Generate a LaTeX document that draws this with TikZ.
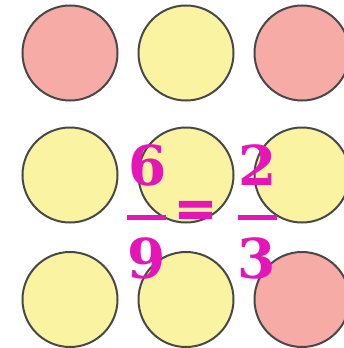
\documentclass[tikz,border=0pt]{standalone}
\usepackage{fontspec}
\newfontfamily\numfont{DejaVu Serif}[BoldFont={DejaVu Serif Bold}]
\newfontfamily\eqfont{DejaVu Serif Bold}[FakeBold=2.5]
\definecolor{pinkfill}{RGB}{247,171,166}
\definecolor{yelfill}{RGB}{250,244,162}
\definecolor{edgegray}{RGB}{72,72,72}
\definecolor{mag}{RGB}{228,22,184}
\tikzset{
  dot/.style={circle, draw=edgegray, line width=2pt, minimum size=95pt, inner sep=0pt},
  pinkdot/.style={dot, fill=pinkfill},
  yeldot/.style={dot, fill=yelfill},
  digit/.style={text=mag, inner sep=0pt, font=\numfont\bfseries\fontsize{55}{60}\selectfont},
  eqsign/.style={text=mag, inner sep=0pt, font=\eqfont\fontsize{50}{60}\selectfont},
  fracbar/.style={draw=mag, line width=5pt}
}
\begin{document}
\begin{tikzpicture}[x=1pt,y=-1pt]
\useasboundingbox (0,0) rectangle (344,348);
\node[pinkdot] (c11) at (70,53) {};
\node[yeldot] (c12) at (186,53) {};
\node[pinkdot] (c13) at (302,53) {};
\node[yeldot] (c21) at (70,175) {};
\node[yeldot] (c22) at (186,175) {};
\node[yeldot] (c23) at (302,175) {};
\node[yeldot] (c31) at (70,299.5) {};
\node[yeldot] (c32) at (186,299.5) {};
\node[pinkdot] (c33) at (302,299.5) {};
\node[digit] (n1) at (147.5,165) {6};
\node[digit] (d1) at (147,258) {9};
\node[eqsign] (eq) at (195.5,213.5) {=};
\node[digit] (n2) at (257.5,165) {2};
\node[digit] (d2) at (257,258) {3};
\coordinate (b1l) at (127,217.5);
\coordinate (b1r) at (166,217.5);
\coordinate (b2l) at (238,217.5);
\coordinate (b2r) at (277,217.5);
\draw[fracbar] (b1l) -- (b1r);
\draw[fracbar] (b2l) -- (b2r);
\end{tikzpicture}
\end{document}
